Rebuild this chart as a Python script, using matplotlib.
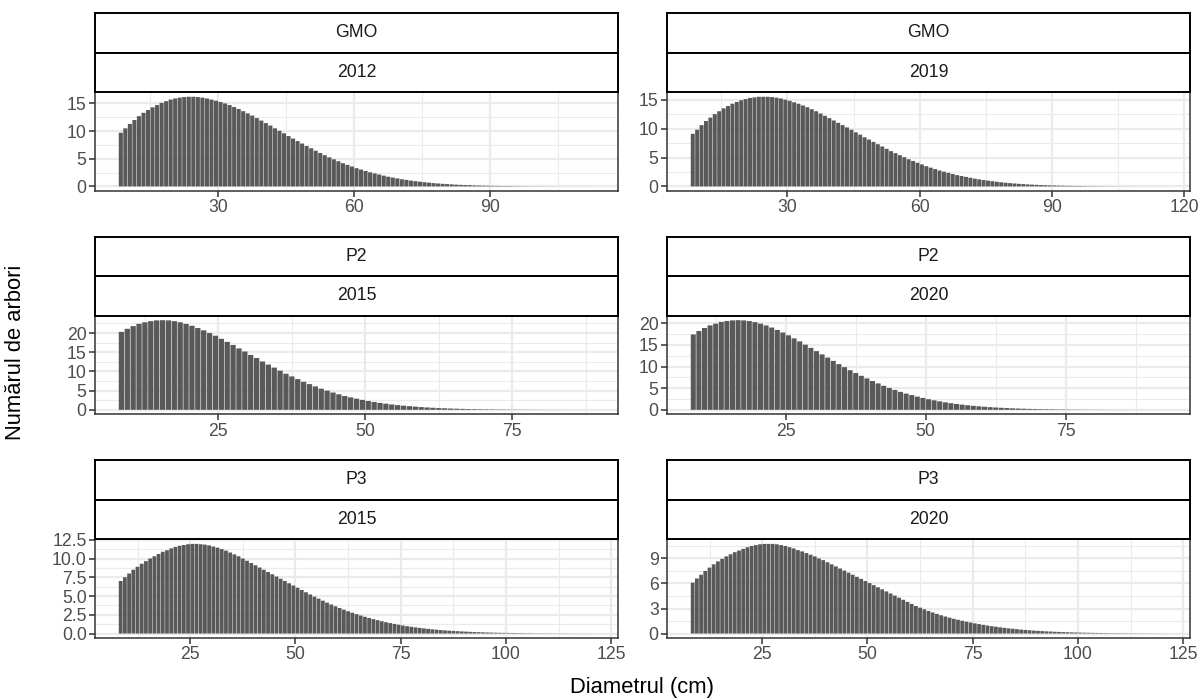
import numpy as np
import matplotlib
matplotlib.use("Agg")
import matplotlib.pyplot as plt
from matplotlib.ticker import MultipleLocator, FormatStrFormatter

plt.rcParams["font.family"] = ["Liberation Sans", "DejaVu Sans"]

# number of trees per 1 cm diameter class
gmo_2012 = [
    9.7, 10.5, 11.3, 12.0, 12.7, 13.3, 13.8, 14.3, 14.7, 15.1, 15.4, 15.7, 15.9, 16.05, 16.15,
    16.2, 16.2, 16.15, 16.05, 15.9, 15.7, 15.5, 15.25, 15.0, 14.7, 14.35, 14.0, 13.6, 13.2, 12.8,
    12.35, 11.9, 11.45, 11.0, 10.5, 10.05, 9.6, 9.1, 8.65, 8.2, 7.75, 7.3, 6.9, 6.45, 6.05,
    5.65, 5.25, 4.9, 4.55, 4.2, 3.9, 3.6, 3.3, 3.05, 2.8, 2.55, 2.35, 2.15, 1.95, 1.75,
    1.6, 1.45, 1.3, 1.18, 1.05, 0.95, 0.85, 0.76, 0.68, 0.6, 0.53, 0.47, 0.42, 0.37, 0.32,
    0.28, 0.25, 0.22, 0.19, 0.16, 0.14, 0.12, 0.1, 0.09, 0.08, 0.07, 0.06, 0.05, 0.04, 0.035,
    0.03, 0.025, 0.02, 0.017, 0.014, 0.012, 0.01, 0.008, 0.006, 0.005, 0.004, 0.003, 0.003, 0.002, 0.002,
]
gmo_2019 = [
    9.1, 9.8, 10.6, 11.3, 11.9, 12.5, 13.0, 13.5, 13.9, 14.3, 14.6, 14.9, 15.1, 15.3, 15.4,
    15.5, 15.5, 15.5, 15.45, 15.35, 15.2, 15.0, 14.8, 14.55, 14.3, 14.0, 13.7, 13.35, 13.0, 12.6,
    12.2, 11.8, 11.4, 11.0, 10.6, 10.2, 9.8, 9.35, 8.95, 8.5, 8.1, 7.7, 7.3, 6.9, 6.5,
    6.1, 5.75, 5.4, 5.05, 4.7, 4.4, 4.1, 3.8, 3.5, 3.25, 3.0, 2.75, 2.55, 2.35, 2.15,
    1.95, 1.8, 1.65, 1.5, 1.35, 1.22, 1.1, 1.0, 0.9, 0.8, 0.72, 0.64, 0.57, 0.51, 0.45,
    0.4, 0.35, 0.31, 0.27, 0.24, 0.21, 0.18, 0.16, 0.14, 0.12, 0.1, 0.09, 0.08, 0.07, 0.06,
    0.05, 0.04, 0.035, 0.03, 0.025, 0.02, 0.017, 0.014, 0.012, 0.01, 0.008, 0.007, 0.006, 0.005, 0.004,
    0.003, 0.003, 0.002,
]
p2_2015 = [
    20.3, 21.1, 21.8, 22.4, 22.8, 23.1, 23.3, 23.35, 23.3, 23.1, 22.8, 22.4, 21.9, 21.3, 20.7,
    20.0, 19.3, 18.5, 17.7, 16.9, 16.0, 15.2, 14.3, 13.5, 12.6, 11.8, 11.0, 10.2, 9.4, 8.7,
    8.0, 7.3, 6.7, 6.1, 5.5, 5.0, 4.5, 4.05, 3.6, 3.25, 2.9, 2.6, 2.3, 2.05, 1.8,
    1.6, 1.4, 1.23, 1.08, 0.95, 0.83, 0.72, 0.62, 0.54, 0.46, 0.4, 0.34, 0.29, 0.25, 0.21,
    0.18, 0.15, 0.13, 0.11, 0.09, 0.08, 0.065, 0.055, 0.045, 0.037, 0.03, 0.025, 0.02, 0.016, 0.013,
    0.01, 0.008, 0.007, 0.005, 0.004, 0.003,
]
p2_2020 = [
    17.4, 18.2, 18.9, 19.5, 19.9, 20.3, 20.5, 20.65, 20.7, 20.65, 20.5, 20.25, 19.9, 19.5, 19.0,
    18.45, 17.85, 17.2, 16.5, 15.8, 15.05, 14.3, 13.55, 12.8, 12.05, 11.3, 10.55, 9.85, 9.15, 8.5,
    7.85, 7.25, 6.65, 6.1, 5.55, 5.05, 4.6, 4.15, 3.75, 3.4, 3.05, 2.75, 2.45, 2.2, 1.95,
    1.73, 1.53, 1.35, 1.2, 1.05, 0.92, 0.81, 0.71, 0.62, 0.54, 0.47, 0.41, 0.35, 0.3, 0.26,
    0.22, 0.19, 0.16, 0.14, 0.12, 0.1, 0.085, 0.072, 0.06, 0.05, 0.042, 0.035, 0.029, 0.024, 0.02,
    0.016, 0.013, 0.011, 0.009, 0.007, 0.006, 0.005, 0.004, 0.003, 0.003,
]
p3_2015 = [
    7.0, 7.5, 8.0, 8.5, 8.9, 9.3, 9.65, 10.0, 10.3, 10.6, 10.9, 11.1, 11.35, 11.55, 11.7,
    11.8, 11.9, 11.95, 11.95, 11.9, 11.85, 11.75, 11.6, 11.45, 11.25, 11.05, 10.8, 10.55, 10.3, 10.0,
    9.7, 9.4, 9.1, 8.8, 8.5, 8.2, 7.9, 7.6, 7.3, 7.0, 6.7, 6.4, 6.1, 5.8, 5.5,
    5.2, 4.92, 4.65, 4.38, 4.12, 3.87, 3.63, 3.4, 3.18, 2.97, 2.77, 2.58, 2.4, 2.23, 2.07,
    1.92, 1.78, 1.64, 1.51, 1.39, 1.28, 1.17, 1.07, 0.98, 0.9, 0.82, 0.75, 0.68, 0.62, 0.56,
    0.51, 0.46, 0.42, 0.38, 0.34, 0.31, 0.28, 0.25, 0.22, 0.2, 0.18, 0.16, 0.14, 0.125, 0.11,
    0.1, 0.09, 0.08, 0.07, 0.062, 0.055, 0.048, 0.043, 0.038, 0.033, 0.029, 0.026, 0.022, 0.02, 0.017,
    0.015, 0.013, 0.011, 0.01, 0.009, 0.008, 0.007, 0.006,
]
p3_2020 = [
    6.1, 6.6, 7.05, 7.5, 7.9, 8.3, 8.65, 8.95, 9.25, 9.5, 9.75, 9.95, 10.15, 10.35, 10.5,
    10.6, 10.7, 10.75, 10.75, 10.75, 10.7, 10.6, 10.5, 10.35, 10.2, 10.0, 9.85, 9.65, 9.45, 9.25,
    9.0, 8.8, 8.55, 8.3, 8.05, 7.8, 7.55, 7.3, 7.05, 6.8, 6.55, 6.3, 6.05, 5.8, 5.55,
    5.3, 5.05, 4.8, 4.55, 4.3, 4.05, 3.8, 3.55, 3.3, 3.1, 2.9, 2.7, 2.52, 2.35, 2.19,
    2.04, 1.9, 1.77, 1.65, 1.53, 1.42, 1.32, 1.22, 1.13, 1.04, 0.96, 0.88, 0.81, 0.74, 0.68,
    0.62, 0.57, 0.52, 0.47, 0.43, 0.39, 0.35, 0.32, 0.29, 0.26, 0.24, 0.21, 0.19, 0.17, 0.155,
    0.14, 0.125, 0.11, 0.1, 0.09, 0.08, 0.07, 0.062, 0.055, 0.049, 0.043, 0.038, 0.034, 0.03, 0.026,
    0.023, 0.02, 0.018, 0.016, 0.014, 0.012, 0.011, 0.01,
]

# diameter classes: centres of 1 cm classes starting at 8.5 cm
first_class = 8.5

panels = [
    ("GMO", "2012", gmo_2012, 30, 5, "%g"),
    ("GMO", "2019", gmo_2019, 30, 5, "%g"),
    ("P2", "2015", p2_2015, 25, 5, "%g"),
    ("P2", "2020", p2_2020, 25, 5, "%g"),
    ("P3", "2015", p3_2015, 25, 2.5, "%.1f"),
    ("P3", "2020", p3_2020, 25, 3, "%g"),
]

W, H = 1204, 698
fig = plt.figure(figsize=(W / 100, H / 100), dpi=100)


def box(left, top, right, bottom):
    return [left / W, 1 - bottom / H, (right - left) / W, (bottom - top) / H]


cols = [(95, 618), (667, 1190)]
panel_tops = [92.3, 315.7, 539.4]
panel_h = 98.6
strip_h = 39.6

for i, (site, year, counts, xstep, ystep, yfmt) in enumerate(panels):
    left, right = cols[i % 2]
    top = panel_tops[i // 2]
    counts = np.asarray(counts)
    diam = first_class + np.arange(len(counts))

    ax = fig.add_axes(box(left, top, right, top + panel_h))
    bars = ax.bar(diam, counts, width=0.9, color="#595959", linewidth=0, zorder=2)
    for b in bars:
        b.set_snap(False)

    lo, hi = diam[0] - 0.45, diam[-1] + 0.45
    span = hi - lo
    ax.set_xlim(lo - 0.05 * span, hi + 0.05 * span)
    ymax = counts.max()
    ax.set_ylim(-0.05 * ymax, 1.05 * ymax)

    ax.xaxis.set_major_locator(MultipleLocator(xstep))
    ax.xaxis.set_minor_locator(MultipleLocator(xstep / 2))
    ax.yaxis.set_major_locator(MultipleLocator(ystep))
    ax.yaxis.set_minor_locator(MultipleLocator(ystep / 2))
    ax.yaxis.set_major_formatter(FormatStrFormatter(yfmt))
    ax.xaxis.set_major_formatter(FormatStrFormatter("%g"))

    ax.set_axisbelow(True)
    ax.grid(which="major", color="#EBEBEB", linewidth=1.6, zorder=0)
    ax.grid(which="minor", color="#EBEBEB", linewidth=0.8, zorder=0)
    for sp in ax.spines.values():
        sp.set_color("#333333")
        sp.set_linewidth(1.1)
    ax.tick_params(which="major", length=4, width=1.1, color="#333333",
                   labelcolor="#4D4D4D", labelsize=12.7, pad=2)
    ax.tick_params(which="minor", length=0)

    for k, label in enumerate([site, year]):
        s_top = top - (2 - k) * strip_h
        sax = fig.add_axes(box(left, s_top, right, s_top + strip_h))
        sax.set_xticks([])
        sax.set_yticks([])
        for sp in sax.spines.values():
            sp.set_color("black")
            sp.set_linewidth(1.4)
        sax.text(0.5, 0.5, label, ha="center", va="center", fontsize=12.7,
                 color="#1A1A1A", transform=sax.transAxes)

fig.text(642.5 / W, 1 - 688 / H, "Diametrul (cm)", ha="center", va="center", fontsize=15.8)
fig.text(16 / W, 1 - 352 / H, "Numărul de arbori", ha="center", va="center",
         rotation=90, fontsize=15.8)

fig.savefig("out.png", dpi=100)
